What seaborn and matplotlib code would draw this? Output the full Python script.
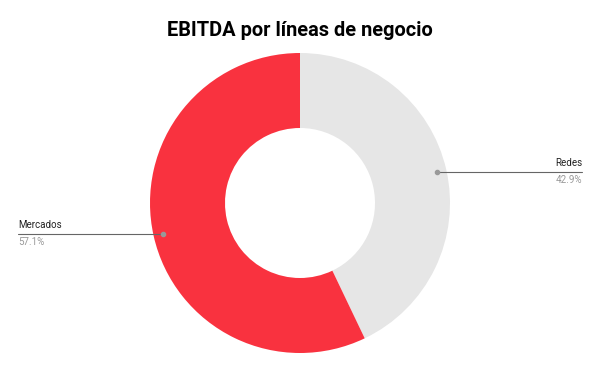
import numpy as np
import matplotlib
matplotlib.use("Agg")
import matplotlib.pyplot as plt
import seaborn as sns

categories = ["Redes", "Mercados"]
values = [42.9, 57.1]
colors = ["#e6e6e6", "#f9323f"]
title = "EBITDA por líneas de negocio"

sns.set_style("white")
plt.rcParams['font.family'] = ['Roboto', 'DejaVu Sans']

W, H = 600, 371
fig = plt.figure(figsize=(6, 3.71), dpi=100)
ax = fig.add_axes([0, 0, 1, 1])

cx, cy = 300, H - 203
R = 150
wedges, _ = ax.pie(values, colors=colors, startangle=90, counterclock=False,
                   radius=R, center=(cx, cy), frame=True,
                   wedgeprops=dict(width=75, linewidth=0))
ax.set_xlim(0, W)
ax.set_ylim(0, H)
ax.set_aspect('equal')
ax.axis('off')

total = sum(values)
for w, cat, v in zip(wedges, categories, values):
    ang = np.deg2rad((w.theta1 + w.theta2) / 2)
    px = cx + 140 * np.cos(ang)
    py = cy + 140 * np.sin(ang)
    pct = f"{v / total * 100:.1f}%"
    if np.cos(ang) >= 0:
        xe = 582
        ha = 'right'
    else:
        xe = 18
        ha = 'left'
    ax.plot([px, xe], [py, py], color="#666666", lw=0.8)
    ax.plot([px], [py], 'o', color="#999999", ms=3)
    ax.text(xe, py + 4, cat, ha=ha, va='bottom', fontsize=7, color="#222222")
    ax.text(xe, py - 3, pct, ha=ha, va='top', fontsize=7, color="#999999")

ax.text(300, H - 31, title, ha='center', va='center', fontsize=14.4,
        fontweight='bold', color="#000000")

fig.savefig("out.png", dpi=100)
